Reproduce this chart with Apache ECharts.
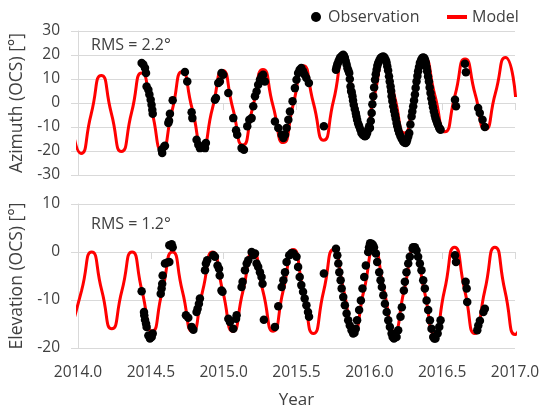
<!DOCTYPE html>
<html>
<head>
<meta charset="utf-8">
<script src="https://cdn.jsdelivr.net/npm/echarts@6/dist/echarts.min.js"></script>
<style>
html,body{margin:0;padding:0;background:#fff;}
#chart{width:545px;height:412px;}
</style>
</head>
<body>
<div id="chart"></div>
<script>
// ---- Data ----
const xTickLabels = ['2014.0','2014.5','2015.0','2015.5','2016.0','2016.5','2017.0'];
const azTicks = [-30,-20,-10,0,10,20,30];
const elTicks = [-20,-10,0,10];

// Azimuth model curve: [year, degrees] at peaks, troughs and crossings
const azModel = [
[2013.951,-4.7],[2014.021,-21],[2014.09,-4.7],[2014.16,11.5],[2014.229,-4.3],[2014.298,-20.2],
[2014.368,-3.9],[2014.437,12.5],[2014.507,-3.5],[2014.576,-19.5],[2014.646,-3.2],[2014.715,13],
[2014.784,-2.5],[2014.854,-18],[2014.923,-2.2],[2014.993,13.5],[2015.062,-2],[2015.131,-17.5],
[2015.2,-1.7],[2015.27,14],[2015.339,-1.2],[2015.409,-16.5],[2015.478,-0.5],[2015.547,15.5],
[2015.616,0],[2015.686,-15.5],[2015.755,1.2],[2015.825,18],[2015.894,2.5],[2015.964,-13],
[2016.033,2.7],[2016.102,18.5],[2016.172,3],[2016.241,-12.5],[2016.31,3],[2016.38,18.5],
[2016.45,3.2],[2016.519,-12],[2016.588,3.2],[2016.657,18.3],[2016.727,3.6],[2016.796,-11],
[2016.865,4],[2016.935,19],[2017.004,2.5]
];

// Azimuth observations
const azObs = [
[2014.437,16.7],[2014.448,16],[2014.46,14.6],[2014.467,12.5],[2014.471,6.9],[2014.483,5.5],
[2014.49,3.5],[2014.499,1.4],[2014.505,-0.7],[2014.51,-2.8],[2014.513,-4.5],[2014.574,-19.5],
[2014.578,-20.8],[2014.592,-18.1],[2014.597,-17.8],[2014.62,-8.3],[2014.625,-7.4],[2014.631,-4.5],
[2014.65,1.1],[2014.734,12.9],[2014.75,9.0],[2014.78,-3.9],[2014.785,-6.3],[2014.814,-15.3],
[2014.826,-17.4],[2014.837,-18.8],[2014.86,-18.1],[2014.872,-18.8],[2014.878,-16.7],[2014.94,1.4],
[2014.947,2.1],[2014.963,8.3],[2014.974,9],[2014.985,12.5],[2014.997,11.8],[2015.032,4.2],
[2015.066,-6.3],[2015.085,-11.4],[2015.093,-13.2],[2015.123,-18.8],[2015.139,-19.5],[2015.162,-9.7],
[2015.176,-7],[2015.192,-6.3],[2015.203,-1.4],[2015.215,2.8],[2015.226,4.8],[2015.237,7.6],
[2015.249,9.7],[2015.26,11.1],[2015.271,11.8],[2015.283,9.0],[2015.352,-7.7],[2015.375,-10.4],
[2015.398,-13.2],[2015.41,-14.6],[2015.421,-13.2],[2015.432,-10.4],[2015.444,-7],[2015.455,-3.5],
[2015.473,0.7],[2015.489,6.2],[2015.5,9.7],[2015.511,12.5],[2015.522,13.9],[2015.533,14.6],
[2015.545,13.2],[2015.556,11.8],[2015.568,10.4],[2015.585,8.3],[2015.688,-9.7],
[2015.771,13.9],[2015.775,15],[2015.78,16],[2015.786,17],[2015.793,18],[2015.8,19],[2015.81,19.4],
[2015.815,19.8],[2015.821,20.1],[2015.827,19.5],[2015.832,18.7],[2015.838,17.5],[2015.844,16],
[2015.85,14.5],[2015.856,13.5],[2015.862,12.5],[2015.866,10],[2015.871,6.9],[2015.875,5],
[2015.879,4.5],[2015.884,2.8],[2015.888,1],[2015.893,-0.7],[2015.9,-2.5],[2015.907,-4.2],
[2015.911,-5.5],[2015.916,-7],[2015.923,-8.5],[2015.93,-9.7],[2015.938,-11],[2015.946,-12.5],
[2015.955,-13.2],[2015.962,-13.5],[2015.97,-13.9],[2015.978,-13.5],[2015.985,-12.5],[2015.992,-11],
[2015.999,-9.7],[2016.004,-10.4],[2016.01,-7.5],[2016.016,-4.2],[2016.021,-0.5],[2016.027,2.8],
[2016.033,6.5],[2016.039,9.7],[2016.044,12],[2016.05,13.9],[2016.055,15.5],[2016.061,16.7],
[2016.068,17.7],[2016.077,18.7],[2016.086,19.2],[2016.096,19.4],[2016.104,19],[2016.112,18],
[2016.118,17],[2016.123,15.3],[2016.129,13.5],[2016.135,11.1],[2016.14,9],[2016.146,6.9],
[2016.15,5],[2016.153,2.8],[2016.158,0.8],[2016.164,-1.4],[2016.17,-3.2],[2016.176,-4.9],
[2016.181,-6.5],[2016.187,-8.3],[2016.192,-9.7],[2016.198,-11.1],[2016.205,-12.5],[2016.214,-13.9],
[2016.223,-15],[2016.233,-16],[2016.241,-16.5],[2016.249,-16.7],[2016.255,-16.2],[2016.26,-15.3],
[2016.267,-14],[2016.274,-12.5],[2016.282,-9],[2016.29,-5.6],[2016.295,-3.5],[2016.301,-1.4],
[2016.307,1],[2016.313,3.5],[2016.318,6.3],[2016.324,9],[2016.33,11.2],[2016.335,13.2],
[2016.341,15],[2016.347,16.7],[2016.355,17.8],[2016.363,18.7],[2016.37,19],[2016.377,18.7],
[2016.383,17.8],[2016.388,16.7],[2016.393,15],[2016.397,13.2],[2016.403,11],[2016.409,9],
[2016.414,6.5],[2016.42,4.2],[2016.426,2],[2016.432,0],[2016.437,-1.8],[2016.443,-3.5],
[2016.449,-5],[2016.454,-6.3],[2016.46,-7.3],[2016.466,-8.3],[2016.472,-9.3],[2016.48,-10.4],
[2016.485,-10.8],[2016.489,-11.1],[2016.588,1.4],[2016.595,-1.4],[2016.656,16.4],[2016.663,12.8],
[2016.747,-2.1],[2016.758,-4.2],[2016.777,-7],[2016.793,-10]
];

// Elevation model curve
const elModel = [
[2013.955,-16],[2014.025,-8],[2014.094,0],[2014.163,-8],[2014.232,-16],[2014.302,-8],[2014.371,0],
[2014.44,-8.2],[2014.509,-16.5],[2014.578,-8.2],[2014.648,0],[2014.717,-8.2],[2014.786,-16.5],
[2014.855,-8.2],[2014.924,0],[2014.994,-8.2],[2015.063,-16.5],[2015.132,-8.2],[2015.201,0],
[2015.27,-8.2],[2015.34,-16.5],[2015.409,-8],[2015.478,0.5],[2015.547,-8.2],[2015.616,-17],
[2015.686,-8.2],[2015.755,0.5],[2015.824,-8],[2015.893,-16.5],[2015.963,-8],[2016.032,0.5],
[2016.101,-8],[2016.17,-16.5],[2016.239,-8],[2016.308,0.5],[2016.378,-8.2],[2016.447,-17],
[2016.516,-8],[2016.585,1],[2016.655,-8],[2016.724,-17],[2016.793,-8],[2016.862,1],
[2016.931,-8.1],[2017.0,-17.2],[2017.07,-8]
];

// Elevation observations
const elObs = [
[2014.437,-8.2],[2014.453,-12.5],[2014.455,-13.2],[2014.46,-14.1],[2014.467,-14.9],[2014.471,-15.6],
[2014.483,-17.4],[2014.494,-18],[2014.506,-17.7],[2014.513,-17],[2014.568,-8.7],[2014.574,-7.6],
[2014.578,-6.6],[2014.581,-4.9],[2014.597,-2.4],[2014.613,-2.2],[2014.627,-2.1],[2014.627,1.4],
[2014.643,1.6],[2014.65,1],[2014.741,-13.2],[2014.757,-13.7],[2014.78,-15.6],[2014.792,-16.2],
[2014.814,-12.5],[2014.821,-11.8],[2014.83,-10.8],[2014.837,-9.7],[2014.872,-3.8],[2014.878,-2.4],
[2014.887,-1.7],[2014.929,-0.7],[2014.94,-1],[2014.958,-2.8],[2014.968,-3.5],[2014.973,-4.9],
[2014.985,-8],[2014.992,-8.3],[2015.032,-13.9],[2015.043,-14.6],[2015.066,-16],[2015.085,-13.9],
[2015.089,-13.2],[2015.123,-7.3],[2015.13,-6.2],[2015.146,-3.8],[2015.158,-2.4],[2015.169,-1.7],
[2015.192,0],[2015.203,-0.7],[2015.215,-0.3],[2015.226,-2.4],[2015.237,-3.1],[2015.249,-4.2],
[2015.26,-5.2],[2015.267,-6.6],[2015.276,-14.1],[2015.352,-15.6],[2015.375,-11.3],[2015.398,-7.3],
[2015.41,-5.9],[2015.421,-4.2],[2015.432,-2.1],[2015.45,-0.7],[2015.466,-0.2],[2015.48,-0.3],
[2015.5,-1],[2015.511,-3.1],[2015.522,-5.2],[2015.533,-6.9],[2015.545,-8.3],[2015.556,-9.7],
[2015.568,-11.1],[2015.579,-12.5],[2015.586,-13.5],[2015.688,-4.5],[2015.771,0.7],[2015.78,-0.7],
[2015.787,-2.4],[2015.794,-4.2],[2015.803,-5.9],[2015.81,-7.6],[2015.821,-9.4],[2015.832,-11.1],
[2015.844,-12.8],[2015.855,-14.2],[2015.866,-15.3],[2015.878,-16.3],[2015.889,-17],[2015.898,-16.8],
[2015.907,-16],[2015.916,-14.2],[2015.93,-12.1],[2015.942,-10.1],[2015.953,-7.6],[2015.965,-5.2],
[2015.976,-2.8],[2015.992,0],[2015.998,1],[2016.005,1.8],[2016.016,1.7],[2016.024,1.5],[2016.032,1],
[2016.045,-0.3],[2016.054,-2.1],[2016.068,-4.2],[2016.077,-5.9],[2016.086,-7.3],[2016.096,-9],
[2016.107,-10.8],[2016.119,-12.5],[2016.13,-14.2],[2016.141,-15.6],[2016.153,-17],[2016.16,-17.7],
[2016.169,-18],[2016.187,-17.7],[2016.198,-16.3],[2016.214,-13.5],[2016.223,-11.5],[2016.237,-8],
[2016.244,-6.2],[2016.255,-4.2],[2016.267,-2.4],[2016.278,-1],[2016.297,0.7],[2016.3,1],[2016.313,1],
[2016.324,0.3],[2016.335,-1],[2016.347,-2.4],[2016.358,-3.8],[2016.37,-5.9],[2016.381,-7.6],
[2016.393,-10.1],[2016.404,-12.1],[2016.416,-14.2],[2016.427,-16],[2016.439,-17.7],[2016.446,-18],
[2016.454,-18],[2016.469,-17],[2016.48,-15.6],[2016.489,-14.2],[2016.588,-0.7],[2016.595,-2.1],
[2016.661,-6.2],[2016.668,-7.6],[2016.672,-10.4],[2016.741,-16.3],[2016.748,-15.3],[2016.759,-14.3],
[2016.783,-12.5],[2016.793,-11.8]
];

const azRms = 'RMS = 2.2°';
const elRms = 'RMS = 1.2°';

// ---- Chart ----
const FONT = 'Open Sans';
const TXT = '#404040';
const GRID_C = '#d9d9d9';

const chart = echarts.init(document.getElementById('chart'), null, {renderer: 'canvas'});

function xAxisCfg(gridIndex, showLabels) {
  return {
    type: 'value', gridIndex: gridIndex,
    min: 2014, max: 2017, interval: 0.5,
    axisLine: {show: true, lineStyle: {color: GRID_C, width: 1}},
    axisTick: {show: true, length: 7, lineStyle: {color: GRID_C}},
    splitLine: {show: false},
    axisLabel: {
      show: showLabels, margin: 17, color: TXT, fontFamily: FONT, fontSize: 15.5,
      formatter: function (v) { const i = Math.round((v - 2014) / 0.5); return xTickLabels[i] || ''; }
    },
    name: showLabels ? 'Year' : '',
    nameLocation: 'middle', nameGap: 44,
    nameTextStyle: {color: TXT, fontFamily: FONT, fontSize: 17}
  };
}

function yAxisCfg(gridIndex, ticks, title) {
  return {
    type: 'value', gridIndex: gridIndex,
    min: ticks[0], max: ticks[ticks.length - 1], interval: 10,
    axisLine: {show: true, lineStyle: {color: GRID_C, width: 1}},
    axisTick: {show: true, length: 7, lineStyle: {color: GRID_C}},
    splitLine: {show: true, lineStyle: {color: GRID_C, width: 1}},
    axisLabel: {margin: 18, color: TXT, fontFamily: FONT, fontSize: 15.5},
    name: title, nameLocation: 'middle', nameGap: 47,
    nameTextStyle: {color: TXT, fontFamily: FONT, fontSize: 17.5}
  };
}

const option = {
  animation: false,
  backgroundColor: '#fff',
  grid: [
    {left: 78, top: 31, width: 437, height: 144},
    {left: 78, top: 204, width: 437, height: 144}
  ],
  xAxis: [xAxisCfg(0, false), xAxisCfg(1, true)],
  yAxis: [
    yAxisCfg(0, azTicks, 'Azimuth (OCS) [°]'),
    yAxisCfg(1, elTicks, 'Elevation (OCS) [°]')
  ],
  legend: [
    {
      data: [{name: 'Observation', icon: 'circle'}],
      left: 306, top: 4, itemWidth: 10, itemHeight: 10,
      textStyle: {color: TXT, fontFamily: FONT, fontSize: 16, padding: [0, 0, 0, 2]},
      selectedMode: false
    },
    {
      data: [{name: 'Model', icon: 'rect'}],
      left: 442, top: 4, itemWidth: 20, itemHeight: 4,
      textStyle: {color: TXT, fontFamily: FONT, fontSize: 16},
      selectedMode: false
    }
  ],
  title: [
    {text: azRms, left: 86, top: 32, textStyle: {color: TXT, fontFamily: FONT, fontSize: 16, fontWeight: 'normal'}},
    {text: elRms, left: 86, top: 211, textStyle: {color: TXT, fontFamily: FONT, fontSize: 16, fontWeight: 'normal'}}
  ],
  series: [
    {name: 'Model', type: 'line', xAxisIndex: 0, yAxisIndex: 0, data: azModel,
     smooth: 0.65, showSymbol: false, symbol: 'none', clip: true, z: 2,
     lineStyle: {color: '#ff0000', width: 3}, itemStyle: {color: '#ff0000'}},
    {name: 'Model', type: 'line', xAxisIndex: 1, yAxisIndex: 1, data: elModel,
     smooth: 0.65, showSymbol: false, symbol: 'none', clip: true, z: 2,
     lineStyle: {color: '#ff0000', width: 3}, itemStyle: {color: '#ff0000'}},
    {name: 'Observation', type: 'scatter', xAxisIndex: 0, yAxisIndex: 0, data: azObs,
     symbol: 'circle', symbolSize: 8.5, z: 3, itemStyle: {color: '#000', opacity: 1}},
    {name: 'Observation', type: 'scatter', xAxisIndex: 1, yAxisIndex: 1, data: elObs,
     symbol: 'circle', symbolSize: 8.5, z: 3, itemStyle: {color: '#000', opacity: 1}}
  ]
};
chart.setOption(option);
</script>
</body>
</html>
